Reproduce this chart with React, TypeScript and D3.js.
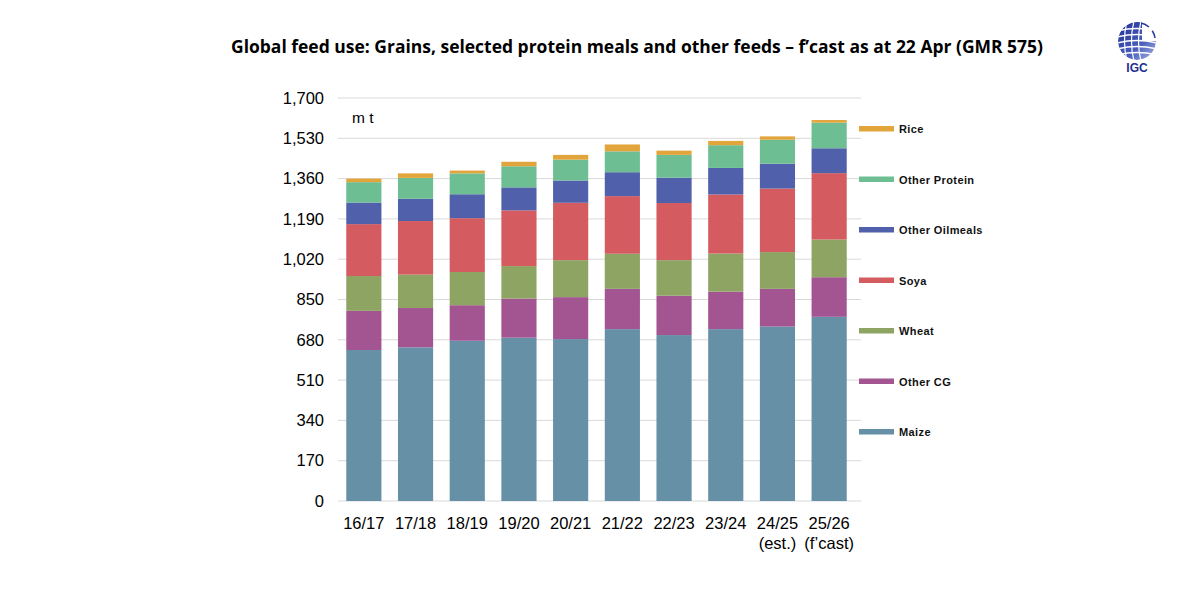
import React, { useEffect, useRef } from 'react';
import * as d3 from 'd3';

// Feed use by marketing year, million tonnes
const years = ['16/17', '17/18', '18/19', '19/20', '20/21', '21/22', '22/23', '23/24', '24/25', '25/26'];
const yearNotes = ['', '', '', '', '', '', '', '', '(est.)', '(f\u2019cast)'];

const maize = [637, 648, 676, 689, 683, 725, 700, 725, 736, 777];
const otherCG = [165, 166, 150, 165, 177, 170, 166, 158, 159, 167];
const wheat = [147, 141, 140, 137, 156, 148, 150, 161, 155, 159];
const soya = [219, 226, 227, 235, 242, 243, 241, 249, 268, 280];
const otherOilmeals = [91, 94, 101, 97, 94, 101, 107, 112, 105, 105];
const otherProtein = [86, 88, 88, 89, 88, 88, 96, 96, 101, 108];
const rice = [15, 19, 12, 19, 20, 29, 18, 18, 14, 11];

const seriesNames = ['Maize', 'Other CG', 'Wheat', 'Soya', 'Other Oilmeals', 'Other Protein', 'Rice'];
const seriesColors = ['#6590a6', '#a35592', '#8ea462', '#d45b60', '#5160aa', '#6dbf93', '#e2a53b'];
const seriesValues = [maize, otherCG, wheat, soya, otherOilmeals, otherProtein, rice];

const yTicks = [0, 170, 340, 510, 680, 850, 1020, 1190, 1360, 1530, 1700];

const W = 1200;
const H = 598;
const margin = { left: 338, right: 345, top: 98, bottom: 97 };

export default function App() {
    const ref = useRef<SVGSVGElement>(null);

    useEffect(() => {
        const svg = d3.select(ref.current);
        svg.selectAll('*').remove();

        const innerW = W - margin.left - margin.right;
        const innerH = H - margin.top - margin.bottom;

        const rows = years.map((yr, i) => {
            const row: any = { year: yr };
            seriesNames.forEach((s, j) => (row[s] = seriesValues[j][i]));
            return row;
        });
        const stacked = d3.stack().keys(seriesNames)(rows);

        const x = d3.scaleBand().domain(years).range([0, innerW]).paddingInner(0.32).paddingOuter(0.16);
        const y = d3.scaleLinear().domain([0, 1700]).range([innerH, 0]);

        const g = svg.append('g').attr('transform', `translate(${margin.left},${margin.top})`);

        // gridlines
        g.selectAll('.grid')
            .data(yTicks)
            .enter()
            .append('line')
            .attr('x1', 0)
            .attr('x2', innerW + 6)
            .attr('y1', (d) => y(d))
            .attr('y2', (d) => y(d))
            .attr('stroke', '#d9d9d9')
            .attr('stroke-width', 1);

        // y axis labels
        const yAxis = g.append('g').call(
            d3
                .axisLeft(y)
                .tickValues(yTicks)
                .tickSize(0)
                .tickPadding(14)
                .tickFormat((d) => d3.format(',')(d as number))
        );
        yAxis.select('.domain').remove();
        yAxis
            .selectAll('text')
            .attr('font-family', 'Liberation Sans, Arial, sans-serif')
            .attr('font-size', 16.5)
            .attr('fill', '#000');

        // stacked bars
        g.selectAll('.layer')
            .data(stacked)
            .enter()
            .append('g')
            .attr('fill', (d, i) => seriesColors[i])
            .selectAll('rect')
            .data((d) => d)
            .enter()
            .append('rect')
            .attr('x', (d: any) => x(d.data.year)!)
            .attr('y', (d) => y(d[1]))
            .attr('width', x.bandwidth())
            .attr('height', (d) => y(d[0]) - y(d[1]));

        // x axis labels
        const xLabels = g
            .selectAll('.xl')
            .data(years)
            .enter()
            .append('text')
            .attr('x', (d) => x(d)! + x.bandwidth() / 2)
            .attr('y', innerH + 28)
            .attr('text-anchor', 'middle')
            .attr('font-family', 'Liberation Sans, Arial, sans-serif')
            .attr('font-size', 16.5)
            .attr('fill', '#000');
        xLabels
            .append('tspan')
            .attr('x', (d) => x(d)! + x.bandwidth() / 2)
            .text((d) => d);
        xLabels
            .append('tspan')
            .attr('x', (d) => x(d)! + x.bandwidth() / 2)
            .attr('dy', 20)
            .text((d, i) => yearNotes[i]);

        // unit label
        g.append('text')
            .attr('x', 14)
            .attr('y', 25)
            .attr('font-family', 'Liberation Sans, Arial, sans-serif')
            .attr('font-size', 15.5)
            .attr('fill', '#000')
            .text('m t');

        // legend, top entry is the top of the stack
        const legendY = d3
            .scalePoint()
            .domain(seriesNames.slice().reverse())
            .range([129, 432]);
        const lg = svg
            .selectAll('.lg')
            .data(seriesNames)
            .enter()
            .append('g')
            .attr('transform', (d) => `translate(859,${legendY(d)})`);
        lg.append('rect')
            .attr('x', 0)
            .attr('y', -3)
            .attr('width', 35)
            .attr('height', 5.5)
            .attr('fill', (d, i) => seriesColors[i]);
        lg.append('text')
            .attr('x', 40)
            .attr('y', 4)
            .attr('font-family', 'Liberation Sans, Arial, sans-serif')
            .attr('font-weight', 'bold')
            .attr('font-size', 11)
            .attr('letter-spacing', 0.4)
            .attr('fill', '#111')
            .text((d) => d);

        // title
        svg.append('text')
            .attr('x', 637)
            .attr('y', 53)
            .attr('text-anchor', 'middle')
            .attr('font-family', 'Open Sans, sans-serif')
            .attr('font-weight', 'bold')
            .attr('font-size', 17.5)
            .attr('textLength', 812)
            .attr('lengthAdjust', 'spacingAndGlyphs')
            .attr('fill', '#000')
            .text('Global feed use: Grains, selected protein meals and other feeds \u2013 f\u2019cast as at 22 Apr (GMR 575)');

        // IGC logo: banded globe plus lettering
        const logo = svg.append('g').attr('transform', 'translate(1137,41)');
        const defs = svg.append('defs');
        const grad = defs
            .append('linearGradient')
            .attr('id', 'globeGrad')
            .attr('x1', '0')
            .attr('y1', '0')
            .attr('x2', '1')
            .attr('y2', '1');
        grad.append('stop').attr('offset', '0').attr('stop-color', '#1f2f92');
        grad.append('stop').attr('offset', '0.6').attr('stop-color', '#4a5fbd');
        grad.append('stop').attr('offset', '1').attr('stop-color', '#aeb9e6');
        defs.append('clipPath')
            .attr('id', 'globeClip')
            .append('path')
            .attr('d', 'M 0 -19 A 19 19 0 1 0 19 0 L 5 0 L 5 -19 Z');
        const globe = logo.append('g').attr('clip-path', 'url(#globeClip)');
        globe.append('circle').attr('r', 19).attr('fill', 'url(#globeGrad)');
        // white latitude and meridian gaps
        [-12, -6, 0, 6, 12].forEach((dy) => {
            globe.append('path')
                .attr('d', `M -20 ${dy + 2} Q 0 ${dy - 3} 20 ${dy + 2}`)
                .attr('fill', 'none')
                .attr('stroke', '#fff')
                .attr('stroke-width', 1.3);
        });
        [-10, -3, 4].forEach((dx) => {
            globe.append('path')
                .attr('d', `M ${dx} -20 Q ${dx - 5} 0 ${dx} 20`)
                .attr('fill', 'none')
                .attr('stroke', '#fff')
                .attr('stroke-width', 1.2);
        });
        // open upper-right arc
        logo.append('path')
            .attr('d', 'M 4 -18 A 18 18 0 0 1 18 -3')
            .attr('fill', 'none')
            .attr('stroke', '#2a3a9e')
            .attr('stroke-width', 1.6)
            .attr('stroke-dasharray', '9 5');
        logo.append('text')
            .attr('x', 0)
            .attr('y', 31)
            .attr('text-anchor', 'middle')
            .attr('font-family', 'Liberation Sans, Arial, sans-serif')
            .attr('font-weight', 'bold')
            .attr('font-size', 12)
            .attr('fill', '#1e2f8f')
            .text('IGC');
    }, []);

    return <svg ref={ref} width={W} height={H} style={{ display: 'block', position: 'absolute', left: 0, top: 0 }} />;
}
